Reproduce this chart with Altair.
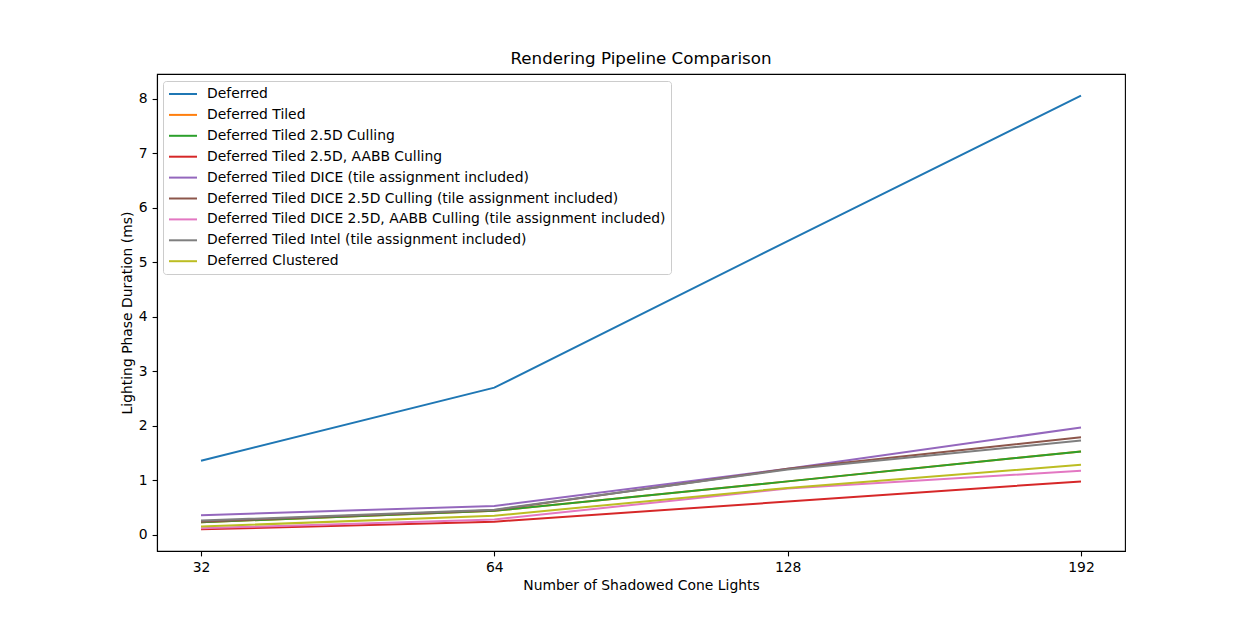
import altair as alt
import pandas as pd

lights = ["32", "64", "128", "192"]
series = [
    "Deferred",
    "Deferred Tiled",
    "Deferred Tiled 2.5D Culling",
    "Deferred Tiled 2.5D, AABB Culling",
    "Deferred Tiled DICE (tile assignment included)",
    "Deferred Tiled DICE 2.5D Culling (tile assignment included)",
    "Deferred Tiled DICE 2.5D, AABB Culling (tile assignment included)",
    "Deferred Tiled Intel (tile assignment included)",
    "Deferred Clustered",
]
deferred = [1.36, 2.70, 5.39, 8.06]
deferred_tiled = [0.23, 0.44, 0.98, 1.53]
tiled_25d = [0.23, 0.44, 0.98, 1.53]
tiled_25d_aabb = [0.10, 0.24, 0.61, 0.98]
dice = [0.36, 0.53, 1.21, 1.97]
dice_25d = [0.24, 0.45, 1.21, 1.79]
dice_25d_aabb = [0.12, 0.28, 0.85, 1.175]
intel = [0.26, 0.46, 1.20, 1.73]
clustered = [0.15, 0.35, 0.86, 1.285]
values = [deferred, deferred_tiled, tiled_25d, tiled_25d_aabb, dice, dice_25d,
          dice_25d_aabb, intel, clustered]
colors = ["#1f77b4", "#ff7f0e", "#2ca02c", "#d62728", "#9467bd", "#8c564b",
          "#e377c2", "#7f7f7f", "#bcbd22"]

rows = []
for i, (name, vals) in enumerate(zip(series, values)):
    for j, (x, v) in enumerate(zip(lights, vals)):
        rows.append({"series": name, "order": i, "lights": x, "value": v})
df = pd.DataFrame(rows)

font = "DejaVu Sans"

chart = alt.Chart(df).mark_line(strokeWidth=2.0).encode(
    x=alt.X("lights:N", sort=lights,
            scale=alt.Scale(type="point", padding=0.15),
            axis=alt.Axis(title="Number of Shadowed Cone Lights", labelAngle=0)),
    y=alt.Y("value:Q",
            scale=alt.Scale(domain=[-0.298, 8.458], nice=False, zero=False),
            axis=alt.Axis(title="Lighting Phase Duration (ms)",
                          values=[0, 1, 2, 3, 4, 5, 6, 7, 8])),
    color=alt.Color("series:N", sort=series,
                    scale=alt.Scale(domain=series, range=colors),
                    legend=alt.Legend(title=None, orient="none", legendX=6, legendY=7,
                                      symbolType="M-1,0H3", symbolSize=196,
                                      symbolStrokeWidth=2.0,
                                      labelFontSize=13.9, labelFont=font,
                                      labelColor="black", labelLimit=0,
                                      rowPadding=5.9, labelOffset=23,
                                      padding=5, strokeColor="#cccccc",
                                      fillColor="white", cornerRadius=3)),
    detail="order:O",
).properties(
    width=968, height=477,
    background="white",
    title=alt.TitleParams("Rendering Pipeline Comparison", font=font, fontSize=16.7,
                          fontWeight="normal", color="black", offset=6),
    autosize=alt.AutoSizeParams(type="none"),
    padding={"left": 149, "top": 66, "right": 117, "bottom": 60},
).configure_view(
    stroke="black", strokeWidth=1.1
).configure_axis(
    labelFont=font, titleFont=font, labelFontSize=13.9, titleFontSize=13.9,
    titleFontWeight="normal", labelColor="black", titleColor="black",
    domainColor="black", domainWidth=1.1, tickColor="black", tickWidth=1.1,
    tickSize=4.9, labelPadding=4.9, grid=False,
)

chart.save("out.html", embed_options={"renderer": "svg", "actions": False})
